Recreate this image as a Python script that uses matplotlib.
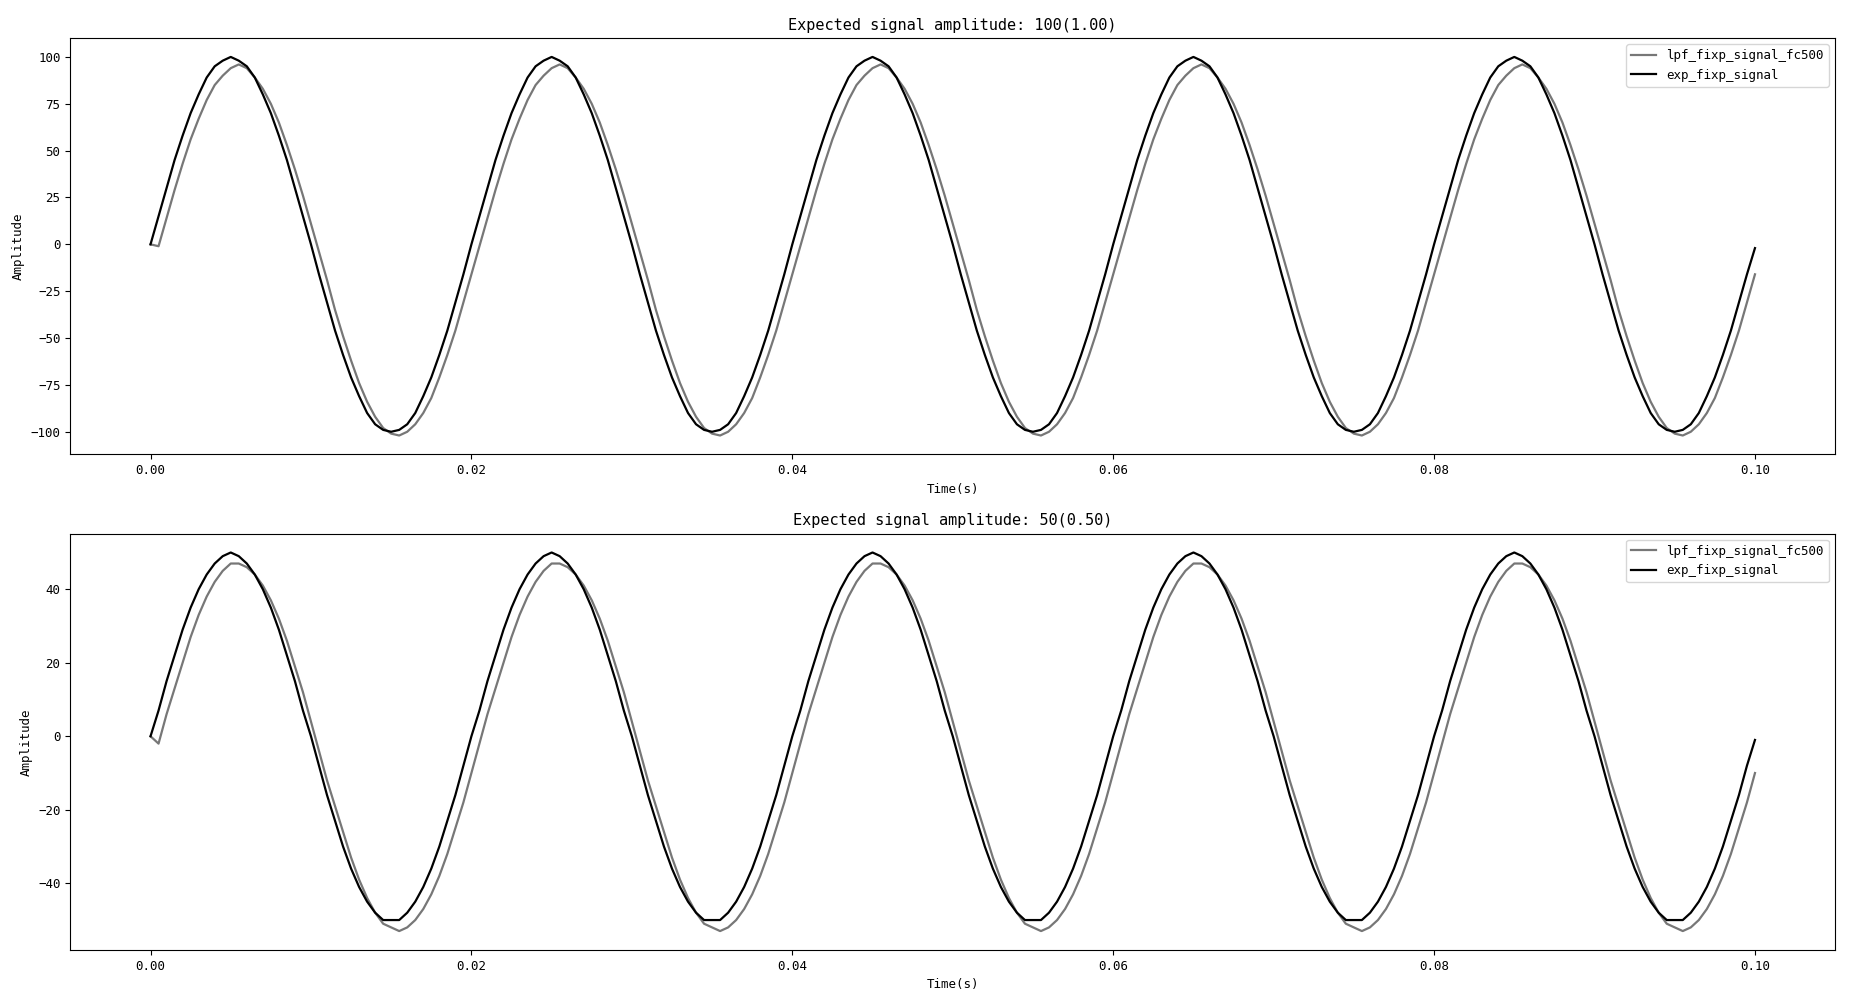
import numpy as np
import matplotlib
matplotlib.use("Agg")
import matplotlib.pyplot as plt

plt.rcParams['font.family'] = ['DejaVu Sans Mono']
plt.rcParams['font.size'] = 9

# one period of the quantised samples (40 samples per period, fs = 2000 Hz, f = 50 Hz)
exp_period_100 = [0, 15, 30, 45, 58, 70, 80, 89, 95, 98, 100, 98, 95, 89, 80, 70, 58, 45, 30, 15,
                  0, -16, -31, -46, -59, -71, -81, -90, -96, -99, -100, -99, -96, -90, -81, -71, -59, -46, -31, -16]
lpf_period_100 = [-16, -1, 14, 29, 43, 56, 67, 77, 85, 90, 94, 96, 94, 89, 83, 75, 65, 53, 40, 26,
                  11, -4, -19, -35, -49, -62, -74, -84, -92, -98, -101, -102, -100, -96, -90, -82, -71, -59, -46, -31]
exp_period_50 = [0, 7, 15, 22, 29, 35, 40, 44, 47, 49, 50, 49, 47, 44, 40, 35, 29, 22, 15, 7,
                 0, -8, -16, -23, -30, -36, -41, -45, -48, -50, -50, -50, -48, -45, -41, -36, -30, -23, -16, -8]
lpf_period_50 = [-10, -2, 6, 13, 20, 27, 33, 38, 42, 45, 47, 47, 46, 44, 41, 37, 32, 26, 19, 12,
                 4, -4, -12, -19, -26, -33, -39, -44, -48, -51, -52, -53, -52, -50, -47, -43, -38, -32, -25, -18]
n_periods = 5
fs = 2000

# end values at t = 0.1 s
exp_end = {100: -2, 50: -1}
lpf_end = {100: -16, 50: -10}

panels = [
    (100, "1.00", exp_period_100, lpf_period_100),
    (50, "0.50", exp_period_50, lpf_period_50),
]

t = np.arange(len(exp_period_100) * n_periods + 1) / fs

fig, axes = plt.subplots(2, 1, figsize=(18.5, 10), dpi=100)
for ax, (amp, ratio, exp_p, lpf_p) in zip(axes, panels):
    exp_sig = list(exp_p) * n_periods + [exp_end[amp]]
    lpf_sig = list(lpf_p) * n_periods + [lpf_end[amp]]
    lpf_sig[0] = 0  # filter starts from rest
    ax.plot(t, lpf_sig, color='#777777', lw=1.6, label='lpf_fixp_signal_fc500')
    ax.plot(t, exp_sig, color='black', lw=1.6, label='exp_fixp_signal')
    ax.set_title(f"Expected signal amplitude: {amp}({ratio})", fontsize=11)
    ax.set_xlabel("Time(s)")
    ax.set_ylabel("Amplitude")
    ax.legend(loc='upper right')

plt.subplots_adjust(left=0.038, right=0.992, top=0.962, bottom=0.05, hspace=0.19)
plt.savefig('out.png')
